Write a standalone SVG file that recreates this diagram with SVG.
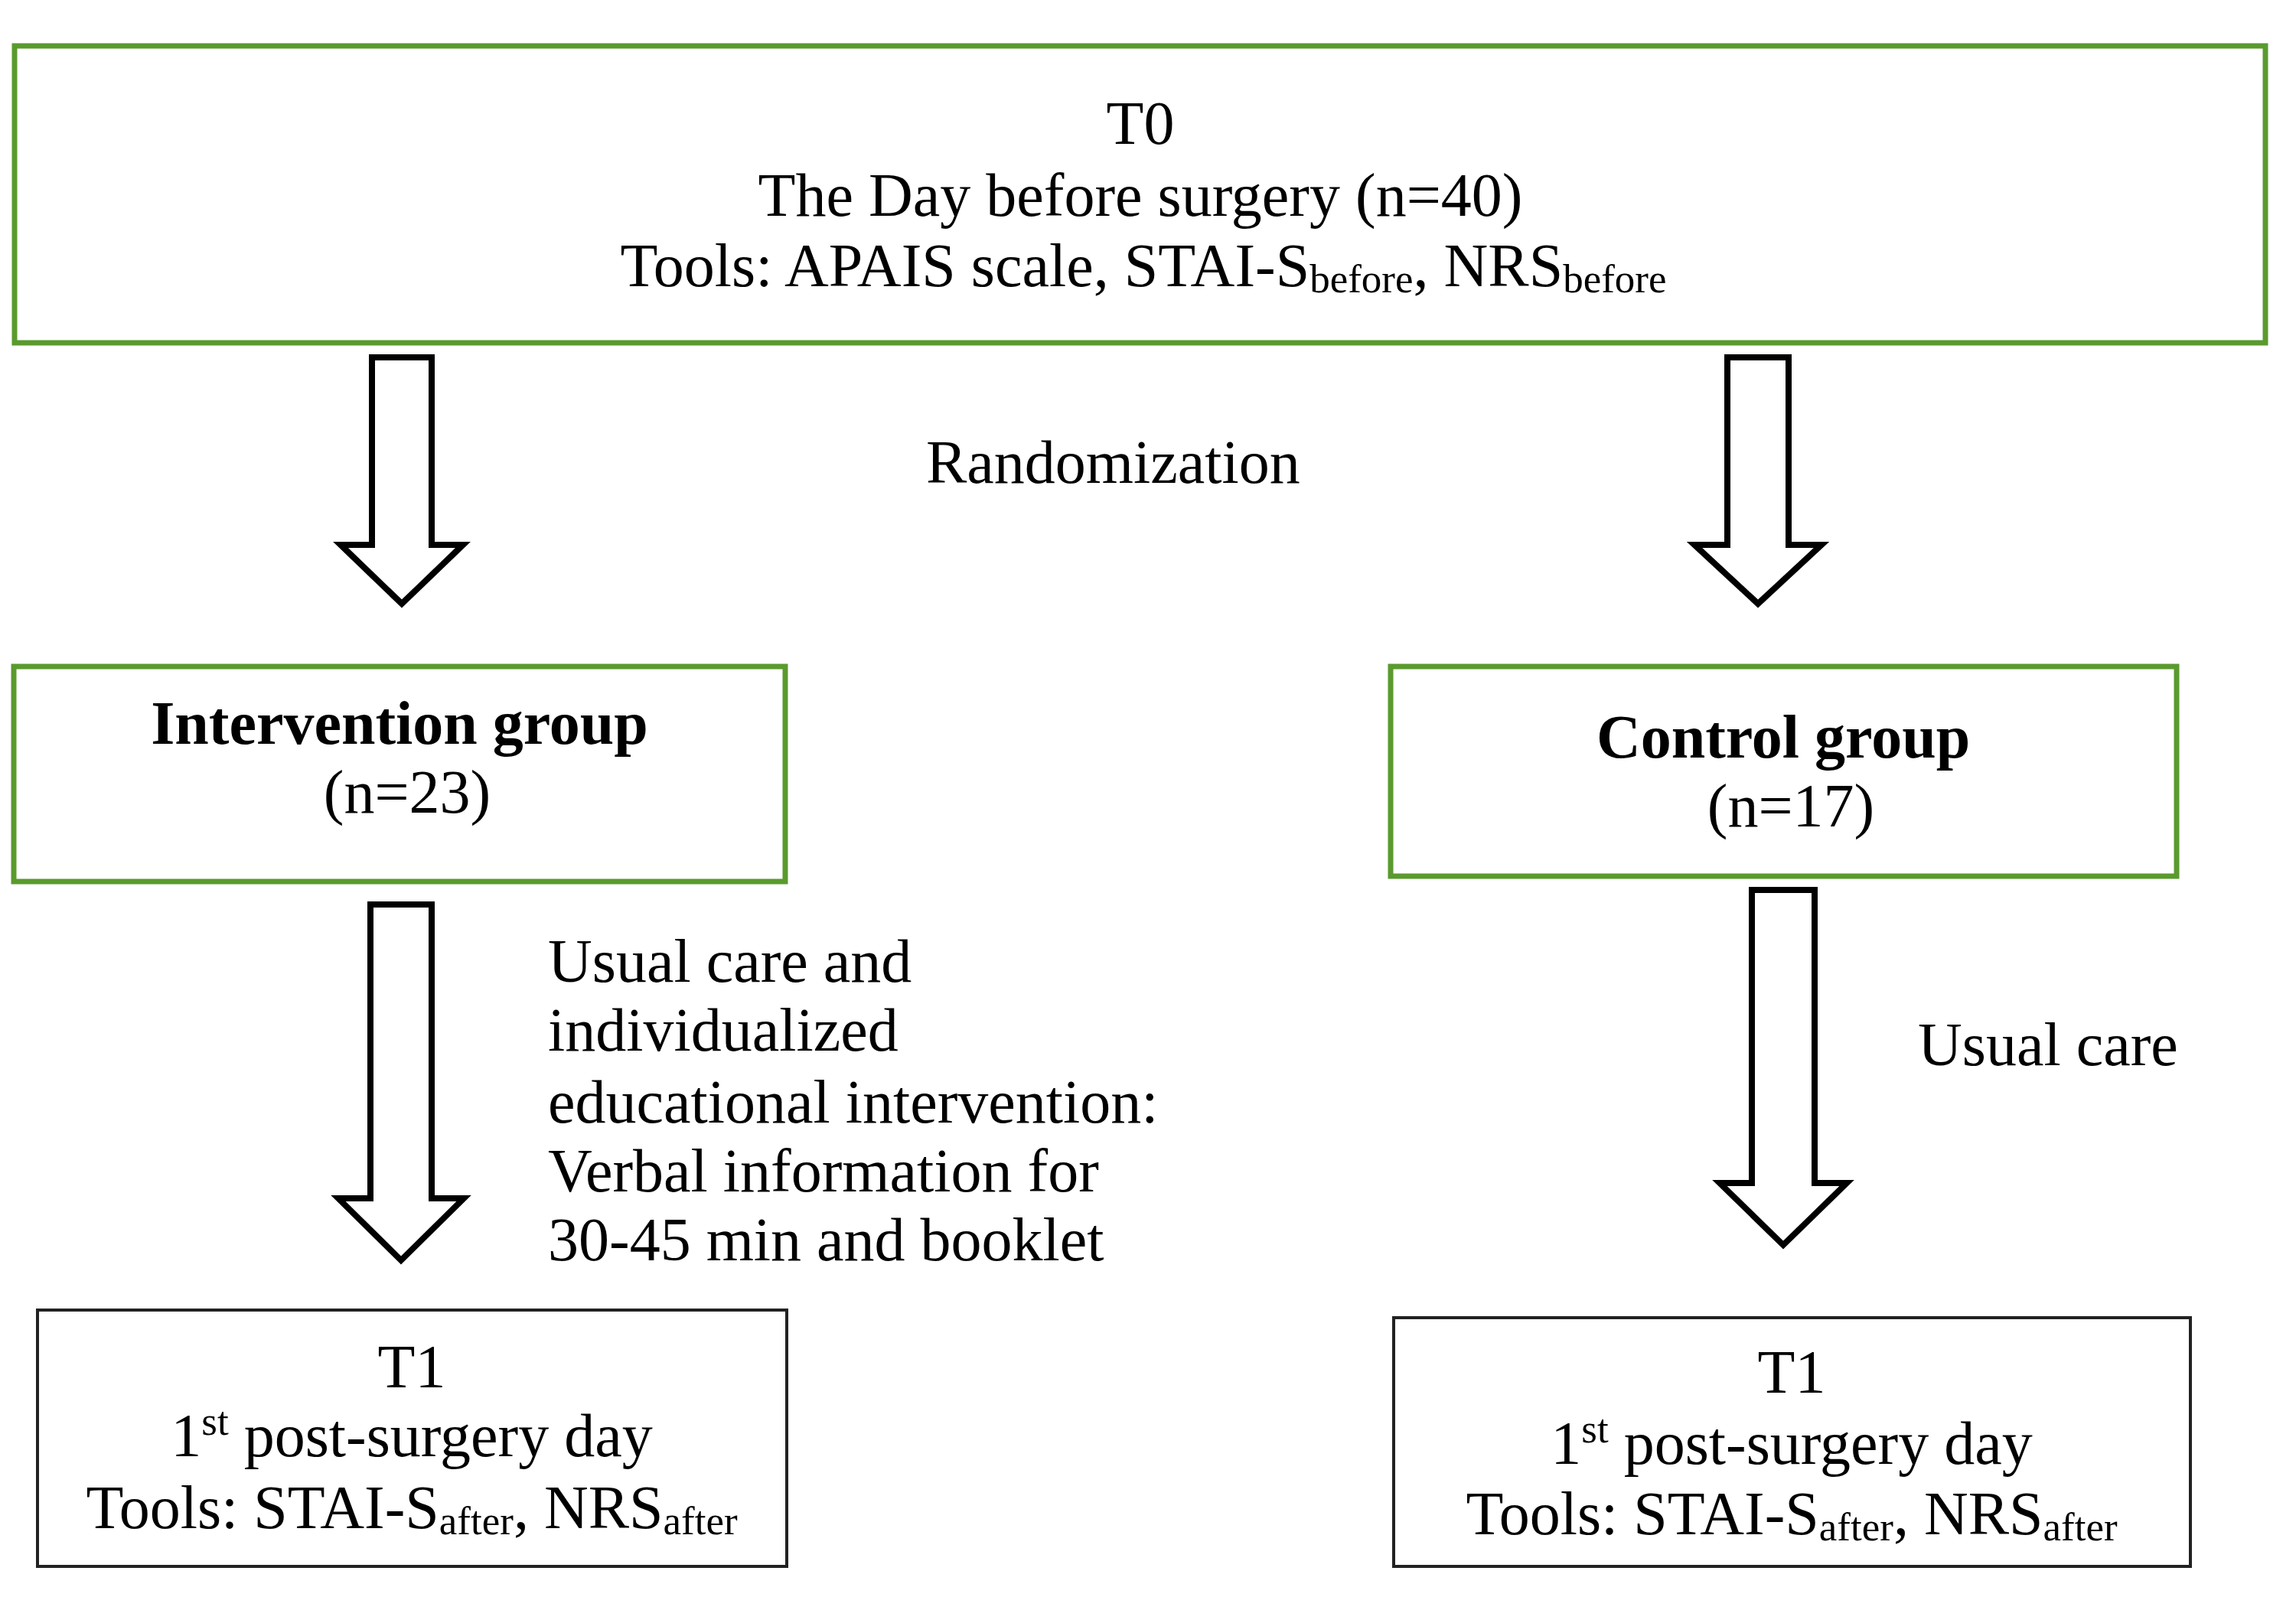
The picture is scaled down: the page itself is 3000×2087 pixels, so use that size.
<svg xmlns="http://www.w3.org/2000/svg" width="3000" height="2087" viewBox="0 0 3000 2087">
<style>
.t{font-family:"Liberation Serif","Times New Roman",serif;font-size:80px;fill:#000}
.c{text-anchor:middle}
.b{font-weight:bold}
.g{fill:#fff;stroke:#5A9A2E;stroke-width:7}
.k{fill:#fff;stroke:#222;stroke-width:4}
.ar{fill:#fff;stroke:#000;stroke-width:8;stroke-linejoin:miter}
</style>
<rect width="3000" height="2087" fill="#fff"/>
<g id="t0">
<rect class="g" x="19" y="60" width="2941" height="388"/>
<text class="t c" x="1490" y="188">T0</text>
<text class="t c" x="1490" y="282">The Day before surgery (n=40)</text>
<text class="t c" x="1494" y="374">Tools: APAIS scale, STAI-S<tspan font-size="53" dy="8">before</tspan><tspan dy="-8">, NRS</tspan><tspan font-size="53" dy="8">before</tspan></text>
</g>
<g id="intervention">
<rect class="g" x="18" y="871" width="1008" height="281"/>
<text class="t c b" x="522" y="972">Intervention group</text>
<text class="t c" x="532" y="1062">(n=23)</text>
</g>
<g id="control">
<rect class="g" x="1817" y="871" width="1027" height="274"/>
<text class="t c b" x="2330" y="990">Control group</text>
<text class="t c" x="2340" y="1080">(n=17)</text>
</g>
<g id="t1-intervention">
<rect class="k" x="49" y="1712" width="979" height="335"/>
<text class="t c" x="538" y="1813">T1</text>
<text class="t c" x="538" y="1903">1<tspan font-size="53" dy="-28">st</tspan><tspan dy="28"> post-surgery day</tspan></text>
<text class="t c" x="538" y="1997">Tools: STAI-S<tspan font-size="53" dy="8">after</tspan><tspan dy="-8">, NRS</tspan><tspan font-size="53" dy="8">after</tspan></text>
</g>
<g id="t1-control">
<rect class="k" x="1821" y="1722" width="1041" height="325"/>
<text class="t c" x="2341" y="1820">T1</text>
<text class="t c" x="2341" y="1913">1<tspan font-size="53" dy="-28">st</tspan><tspan dy="28"> post-surgery day</tspan></text>
<text class="t c" x="2341" y="2005">Tools: STAI-S<tspan font-size="53" dy="8">after</tspan><tspan dy="-8">, NRS</tspan><tspan font-size="53" dy="8">after</tspan></text>
</g>
<g id="connectors">
<path class="ar" d="M486,467 H564 V712 H605 L525,789 L445,712 H486 Z"/>
<path class="ar" d="M2257,467 H2337 V712 H2380 L2297,789 L2214,712 H2257 Z"/>
<path class="ar" d="M484,1182 H564 V1566 H606 L524,1647 L442,1566 H484 Z"/>
<path class="ar" d="M2289,1163 H2371 V1546 H2413 L2330,1627 L2247,1546 H2289 Z"/>
<text class="t" x="1210" y="631">Randomization</text>
<text class="t" x="716" y="1283">Usual care and</text>
<text class="t" x="716" y="1373">individualized</text>
<text class="t" x="716" y="1467">educational intervention:</text>
<text class="t" x="716" y="1557">Verbal information for</text>
<text class="t" x="716" y="1647">30-45 min and booklet</text>
<text class="t" x="2506" y="1392">Usual care</text>
</g>
</svg>
